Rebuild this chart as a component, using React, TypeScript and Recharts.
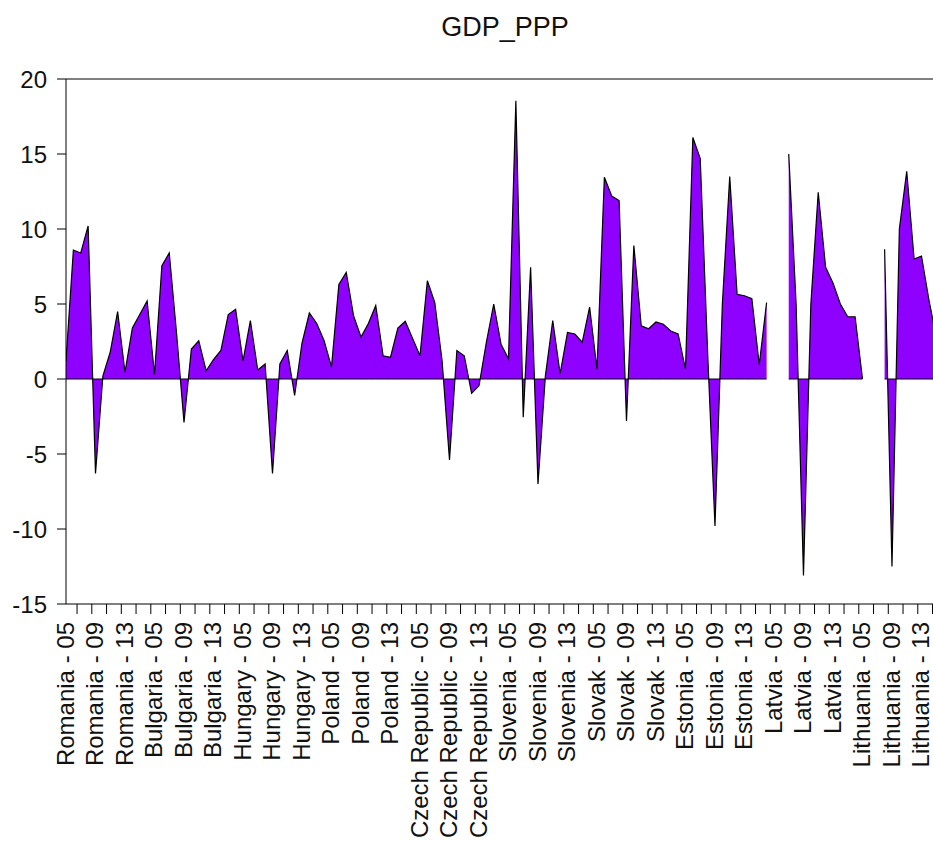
import React from 'react';
import { ComposedChart, Area, Line, XAxis, YAxis, ReferenceLine } from 'recharts';

const countries = ['Romania', 'Bulgaria', 'Hungary', 'Poland', 'Czech Republic', 'Slovenia', 'Slovak', 'Estonia', 'Latvia', 'Lithuania'];
const years = ['05', '06', '07', '08', '09', '10', '11', '12', '13', '14', '15', '16'];
const labelYears = ['05', '09', '13'];

const romania = [1.2, 8.6, 8.4, 10.2, -6.3, 0.2, 1.8, 4.5, 0.45, 3.4, 4.3, 5.2];
const bulgaria = [0.3, 7.55, 8.4, 3.0, -2.9, 2.0, 2.55, 0.55, 1.3, 1.9, 4.3, 4.65];
const hungary = [1.2, 3.9, 0.6, 1.0, -6.3, 1.0, 1.9, -1.1, 2.4, 4.4, 3.7, 2.55];
const poland = [0.8, 6.3, 7.1, 4.2, 2.8, 3.7, 4.9, 1.55, 1.45, 3.4, 3.85, 2.7];
const czech = [1.55, 6.55, 5.1, 1.2, -5.4, 1.9, 1.55, -0.95, -0.45, 2.45, 5.0, 2.3];
const slovenia = [1.35, 18.55, -2.55, 7.45, -7.0, 0.2, 3.9, 0.35, 3.1, 3.0, 2.45, 4.8];
const slovak = [0.65, 13.45, 12.2, 11.9, -2.8, 8.9, 3.55, 3.35, 3.8, 3.65, 3.2, 3.0];
const estonia = [0.65, 16.1, 14.7, 1.8, -9.8, 5.0, 13.5, 5.65, 5.55, 5.35, 0.95, 5.1];
const latvia = [null, null, 15.0, 5.0, -13.1, 5.0, 12.45, 7.45, 6.4, 5.0, 4.15, 4.15];
const lithuania = [0.0, null, null, 8.65, -12.5, 10.0, 13.85, 8.0, 8.2, 5.3, 2.8, 4.2];

const series: (number | null)[][] = [romania, bulgaria, hungary, poland, czech, slovenia, slovak, estonia, latvia, lithuania];
const yTicks = [-15, -10, -5, 0, 5, 10, 15, 20];

type Row = { idx: number; label: string; year: string; v: number | null; base: number | null };
const data: Row[] = [];
countries.forEach((c, ci) => {
  series[ci].forEach((v, yi) => {
    data.push({ idx: ci * 12 + yi, label: `${c} - ${years[yi]}`, year: years[yi], v, base: v == null ? null : 0 });
  });
});

const halfTicks = data.filter((d) => d.idx % 2 === 1 && d.idx < data.length - 1).map((d) => d.idx + 0.5);
const labelTicks = data.filter((d) => labelYears.includes(d.year)).map((d) => d.idx);
const xTicks = [...labelTicks, ...halfTicks].sort((a, b) => a - b);

const FONT = '"Liberation Sans", Arial, Helvetica, sans-serif';

const XTick = (props: any) => {
  const { x, y, payload } = props;
  const v = payload.value as number;
  if (Number.isInteger(v)) {
    const d = data[v];
    return (
      <text
        transform={`translate(${x + 8},${y + 18}) rotate(-90)`}
        textAnchor="end"
        fontSize={24}
        fill="#111"
        fontFamily={FONT}
      >
        {d.label}
      </text>
    );
  }
  return <line x1={x} x2={x} y1={y} y2={y + 10} stroke="#000" strokeWidth={1} />;
};

export default function App() {
  return (
    <div style={{ position: 'absolute', left: 0, top: 0, width: 933, height: 841, overflow: 'hidden', background: '#fff' }}>
      <div
        style={{
          position: 'absolute',
          left: 0,
          top: 14,
          width: 1010,
          textAlign: 'center',
          fontFamily: FONT,
          fontSize: 27,
          lineHeight: '27px',
          color: '#111',
        }}
      >
        GDP_PPP
      </div>
      <ComposedChart
        width={960}
        height={841}
        data={data}
        margin={{ top: 79, right: 16.4, bottom: 0, left: 0 }}
      >
        <XAxis
          dataKey="idx"
          type="number"
          domain={[0, 119]}
          ticks={xTicks}
          interval={0}
          tick={<XTick />}
          tickLine={false}
          tickSize={0}
          tickMargin={0}
          height={237}
          axisLine={{ stroke: '#000', strokeWidth: 1 }}
          allowDataOverflow
        />
        <YAxis
          type="number"
          domain={[-15, 20]}
          ticks={yTicks}
          interval={0}
          width={66}
          tickSize={9}
          tickMargin={10}
          tickLine={{ stroke: '#000' }}
          axisLine={{ stroke: '#000', strokeWidth: 1 }}
          tick={{ fontSize: 24, fill: '#111', fontFamily: FONT }}
          allowDataOverflow
        />
        <ReferenceLine y={20} stroke="#000" strokeWidth={1} />
        <Area
          dataKey="v"
          type="linear"
          baseValue={0}
          fill="#8E00FF"
          fillOpacity={1}
          stroke="#000"
          strokeWidth={1.2}
          connectNulls={false}
          isAnimationActive={false}
          dot={false}
          activeDot={false}
        />
        <Line
          dataKey="base"
          type="linear"
          stroke="#000"
          strokeWidth={1}
          connectNulls={false}
          dot={false}
          activeDot={false}
          isAnimationActive={false}
        />
      </ComposedChart>
    </div>
  );
}
